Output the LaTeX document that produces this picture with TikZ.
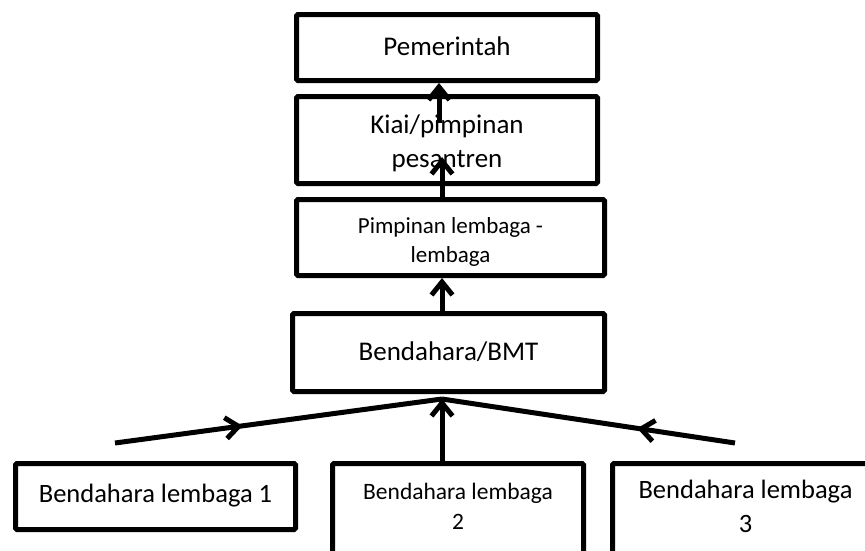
\documentclass[tikz,border=0pt]{standalone}
\usepackage{fontspec}
\setmainfont{Carlito}
\usetikzlibrary{arrows.meta,decorations.markings}
\begin{document}
\begin{tikzpicture}[x=1pt,y=-1pt,
  box/.style={draw, line width=5pt, rounded corners=1.5pt, inner sep=0pt,
    outer sep=0pt, align=center},
  big/.style={font=\fontsize{27}{34}\selectfont},
  tip/.tip={Straight Barb[length=13pt,width=21pt]},
  link/.style={line width=5pt, -tip},
  midlink/.style={line width=5pt, postaction={decorate},
    decoration={markings, mark=at position #1 with {\arrow{tip}}}}
]
\useasboundingbox (0,0) rectangle (865,550);
\clip (0,0) rectangle (865,550);

% chain of offices
\node[box, big, minimum width=301pt, minimum height=66pt,
  text height=19pt, text depth=4pt] (pem) at (447,47.5) {Pemerintah};
\node[box, big, minimum width=301pt, minimum height=87pt,
  text height=59pt, text depth=5pt] (kiai) at (447,140) {Kiai/pimpinan\\pesantren};
\node[box, font=\fontsize{23}{29}\selectfont, minimum width=308pt, minimum height=76pt,
  text height=54pt, text depth=5pt] (pimp) at (450.5,237.5) {Pimpinan lembaga -\\lembaga};
\node[box, big, minimum width=312pt, minimum height=78pt,
  text height=19pt, text depth=4pt] (bmt) at (448.5,352.5) {Bendahara/BMT};

% unit treasurers
\node[box, font=\fontsize{26.5}{34}\selectfont, minimum width=280pt, minimum height=66pt,
  text height=19pt, text depth=8pt] (b1) at (155.5,496.5) {Bendahara lembaga 1};
\node[box, font=\fontsize{23.5}{30}\selectfont, minimum width=251pt, minimum height=94pt,
  text height=42pt, text depth=5pt] (b2) at (458,510.5) {Bendahara lembaga\\2};
\node[box, font=\fontsize{26.5}{34}\selectfont, minimum width=266pt, minimum height=94pt,
  text height=48pt, text depth=5pt] (b3) at (745.5,510.5) {Bendahara lembaga\\3};

% connectors
\coordinate (j) at (442,399);
\coordinate (l0) at (115,443);
\coordinate (r0) at (735,443);
\coordinate (kt) at (442,157);
\coordinate (ks) at (439,123);

\draw[midlink=0.39] (l0) -- (j);
\draw[midlink=0.334] (r0) -- (j);
\draw[link] (j |- b2.north) -- (j);
\draw[link, shorten >=2.5pt] (j |- bmt.north) -- (j |- pimp.south);
\draw[link] (kt |- pimp.north) -- (kt);
\draw[link, shorten >=2.5pt] (ks) -- (ks |- pem.south);
\end{tikzpicture}
\end{document}
